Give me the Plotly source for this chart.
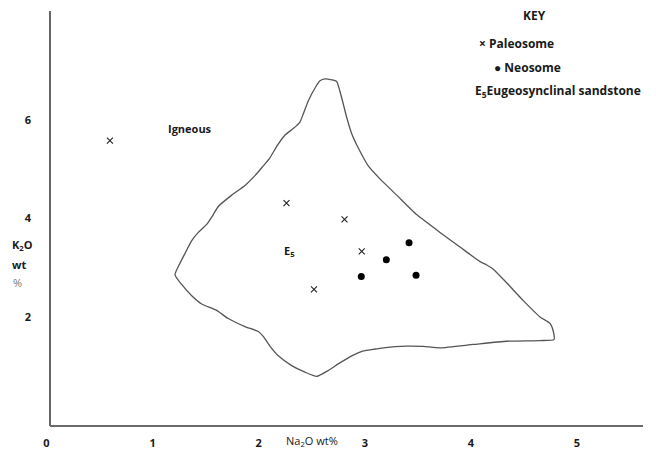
import plotly.graph_objects as go

# Sample compositions (wt%)
paleosome_na2o = [0.598, 2.262, 2.809, 2.971, 2.521]
paleosome_k2o = [5.584, 4.311, 3.980, 3.333, 2.560]

neosome_na2o = [3.417, 3.203, 2.967, 3.483]
neosome_k2o = [3.505, 3.162, 2.822, 2.846]

# Outline of the eugeosynclinal sandstone field (E5)
field_na2o = [2.578, 2.625, 2.688, 2.735, 2.782, 2.829, 2.876, 2.939, 3.033, 3.143,
              3.301, 3.489, 3.709, 3.897, 4.086, 4.149, 4.211, 4.337, 4.494, 4.651,
              4.746, 4.777, 4.783, 4.651, 4.337, 4.023, 3.709, 3.551, 3.395, 3.174,
              3.080, 2.986, 2.877, 2.750, 2.656, 2.547, 2.436, 2.311, 2.185, 2.106,
              2.043, 1.996, 1.871, 1.713, 1.604, 1.463, 1.369, 1.274, 1.211, 1.258,
              1.305, 1.369, 1.431, 1.510, 1.572, 1.619, 1.746, 1.871, 1.965, 2.043,
              2.106, 2.170, 2.248, 2.326, 2.389, 2.420, 2.467, 2.531, 2.578]
field_k2o = [6.798, 6.838, 6.818, 6.786, 6.455, 6.059, 5.729, 5.432, 5.069, 4.806,
             4.475, 4.079, 3.717, 3.420, 3.123, 3.055, 2.970, 2.693, 2.331, 2.000,
             1.867, 1.703, 1.539, 1.519, 1.505, 1.440, 1.372, 1.400, 1.406, 1.372,
             1.341, 1.307, 1.208, 1.044, 0.911, 0.792, 0.877, 1.010, 1.208, 1.406,
             1.604, 1.703, 1.802, 1.966, 2.133, 2.263, 2.430, 2.659, 2.857, 3.089,
             3.287, 3.550, 3.717, 3.881, 4.079, 4.244, 4.475, 4.673, 4.871, 5.069,
             5.234, 5.465, 5.697, 5.828, 5.960, 6.125, 6.390, 6.653, 6.798]

x_ticks = [0, 1, 2, 3, 4, 5]
y_ticks = [2, 4, 6]

FONT = "Open Sans"
INK = "#1a1a1a"

fig = go.Figure()

fig.add_trace(go.Scatter(
    x=field_na2o, y=field_k2o, mode="lines",
    line=dict(color="#555555", width=1.3, shape="spline", smoothing=0.5),
    hoverinfo="skip", showlegend=False,
))

fig.add_trace(go.Scatter(
    x=paleosome_na2o, y=paleosome_k2o, mode="markers", name="Paleosome",
    marker=dict(symbol="x-thin", size=6, line=dict(color="#222222", width=1.1)),
    showlegend=False,
))

fig.add_trace(go.Scatter(
    x=neosome_na2o, y=neosome_k2o, mode="markers", name="Neosome",
    marker=dict(symbol="circle", size=7, color="#000000"),
    showlegend=False,
))

annotations = [
    dict(x=1.352, y=5.822, xref="x", yref="y", text="<b>Igneous</b>",
         showarrow=False, font=dict(size=11, color=INK)),
    dict(x=2.295, y=3.347, xref="x", yref="y", text="<b>E<sub>5</sub></b>",
         showarrow=False, font=dict(size=11, color=INK)),
    # key
    dict(x=534, y=16, text="<b>KEY</b>", xanchor="center", size=12),
    dict(x=477, y=44, text="<b>× Paleosome</b>", xanchor="left", size=12),
    dict(x=492, y=69, text="<b>● Neosome</b>", xanchor="left", size=12),
    dict(x=473, y=93, text="<b>E<sub>5</sub>Eugeosynclinal sandstone</b>", xanchor="left", size=12),
    # axis titles
    dict(x=22, y=251, text="<b>K<sub>2</sub>O</b>", xanchor="center"),
    dict(x=19, y=271, text="<b>wt</b>", xanchor="center"),
    dict(x=17, y=290, text="%", xanchor="center", color="#777777"),
    dict(x=312, y=452, text="Na<sub>2</sub>O wt%", xanchor="center"),
]

W, H = 656, 461
L, R, T, B = 40, 13, 11, 24
pw, ph = W - L - R, H - T - B


def to_paper(px, py):
    return (px - L) / pw, 1 - (py - T) / ph


final = []
for a in annotations:
    if a.get("xref") == "x":
        final.append(a)
        continue
    px, py = to_paper(a["x"], a["y"])
    final.append(dict(
        x=px, y=py, xref="paper", yref="paper", text=a["text"],
        xanchor=a["xanchor"], yanchor="middle", showarrow=False,
        font=dict(size=a.get("size", 11), color=a.get("color", INK)),
    ))

ax_x, _ = to_paper(50, 0)

fig.update_layout(
    width=W, height=H,
    margin=dict(l=L, r=R, t=T, b=B, pad=0),
    paper_bgcolor="white", plot_bgcolor="white",
    font=dict(family=FONT, size=11, color=INK),
    annotations=final,
    shapes=[
        dict(type="line", xref="paper", yref="paper", x0=ax_x, x1=ax_x, y0=0, y1=1,
             line=dict(color="#333333", width=1.5)),
        dict(type="line", xref="paper", yref="paper", x0=ax_x, x1=1, y0=0, y1=0,
             line=dict(color="#6a6a6a", width=2)),
    ],
    xaxis=dict(range=[-0.061, 5.622], tickvals=x_ticks, ticktext=[f"<b>{v}</b>" for v in x_ticks],
               showgrid=False, zeroline=False, showline=False, ticks="",
               ticklabelstandoff=9, tickfont=dict(size=11, color=INK)),
    yaxis=dict(range=[-0.218, 8.218], tickvals=y_ticks, ticktext=[f"<b>{v}</b>" for v in y_ticks],
               showgrid=False, zeroline=False, showline=False, ticks="",
               ticklabelstandoff=8, tickfont=dict(size=11, color=INK)),
)

fig.write_html("out.html")
